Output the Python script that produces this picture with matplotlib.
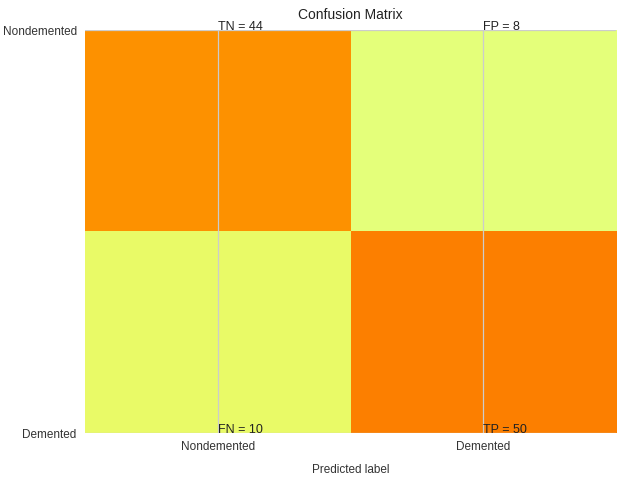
import matplotlib
matplotlib.use("Agg")
import matplotlib.pyplot as plt
import numpy as np

# Confusion matrix values
classes = ["Nondemented", "Demented"]
cm = np.array([[44, 8],
               [10, 50]])
cell_names = [["TN", "FP"], ["FN", "TP"]]

plt.rcParams["font.family"] = ["Liberation Sans", "DejaVu Sans"]

fig = plt.figure(figsize=(6.3, 4.86), dpi=100)
ax = fig.add_axes([0.135, 0.109, 0.843, 0.829])

ax.imshow(cm, interpolation="nearest", cmap=plt.cm.Wistia, aspect="auto")
ax.set_xlim(-0.5, 1.5)
ax.set_ylim(1, 0)

ax.set_xticks(np.arange(len(classes)))
ax.set_xticklabels(classes, fontsize=8.5, color="#333333")
ax.set_yticks(np.arange(len(classes)))
ax.set_yticklabels(classes, fontsize=8.5, color="#333333")
ax.tick_params(length=0, pad=6)

ax.grid(True, color="#cccccc", linewidth=0.9)
for s in ax.spines.values():
    s.set_visible(False)

for i in range(2):
    for j in range(2):
        ax.text(j, i, f"{cell_names[i][j]} = {cm[i][j]}", fontsize=9, color="#222222")

ax.set_title("Confusion Matrix", fontsize=10, pad=8, color="#222222")
ax.set_xlabel("Predicted label", fontsize=8.5, color="#333333", labelpad=8)

fig.savefig("out.png", dpi=100)
